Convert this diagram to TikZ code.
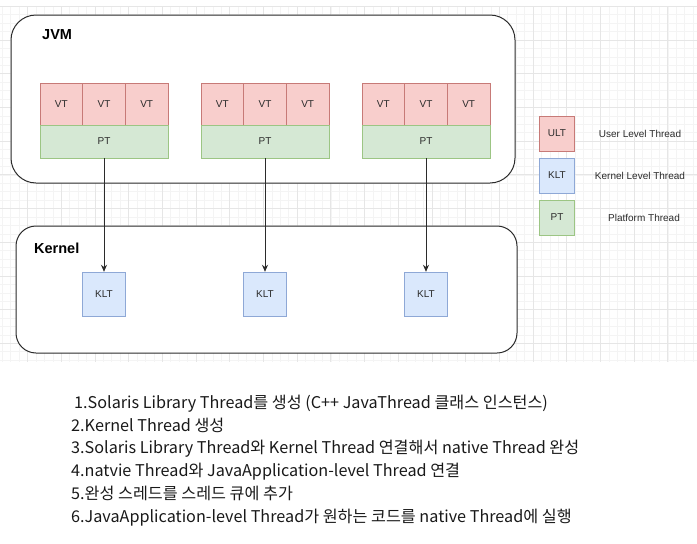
\documentclass[tikz,border=0pt]{standalone}
\usepackage{fontspec}
\setmainfont{Liberation Sans}
\newfontfamily\krfont{Noto Sans CJK KR}
\usetikzlibrary{arrows.meta}

\definecolor{vtfill}{HTML}{F8CECC}
\definecolor{vtline}{HTML}{C77A77}
\definecolor{ptfill}{HTML}{D5E8D4}
\definecolor{ptline}{HTML}{9CC584}
\definecolor{kltfill}{HTML}{DAE8FC}
\definecolor{kltline}{HTML}{8EA8D6}
\definecolor{gridmajor}{HTML}{E6E6E6}
\definecolor{gridminor}{HTML}{F4F4F4}
\definecolor{ink}{HTML}{2B2B2B}

\begin{document}
\begin{tikzpicture}[x=1pt, y=-1pt,
  cell/.style={inner sep=0pt, text=ink, font=\fontsize{10}{12}\selectfont},
  vt/.style={cell, draw=vtline, fill=vtfill, minimum width=42.67pt, minimum height=42pt},
  pt/.style={cell, draw=ptline, fill=ptfill, minimum width=128pt, minimum height=33pt},
  klt/.style={cell, draw=kltline, fill=kltfill, minimum width=43pt, minimum height=44pt},
  legendbox/.style={minimum width=35pt, minimum height=35pt},
  legendtext/.style={text=ink, font=\fontsize{10}{12}\selectfont},
  region/.style={draw=ink, line width=1pt, fill=white},
  regionlabel/.style={anchor=west, inner sep=0pt, font=\bfseries\fontsize{14.5}{17}\selectfont},
  link/.style={draw=ink, line width=0.9pt, -{Stealth[length=7pt, width=6pt]}},
]
  \useasboundingbox (0,0) rectangle (697,544);

  % background grid
  \foreach \k in {0,...,82}
    \draw[gridminor, line width=0.5pt] ({2.2+8.425*\k},6.3) -- ({2.2+8.425*\k},362);
  \foreach \k in {0,...,42}
    \draw[gridminor, line width=0.5pt] (0,{6.3+8.425*\k}) -- (697,{6.3+8.425*\k});
  \foreach \k in {0,...,19}
    \draw[gridmajor, line width=0.7pt] ({27.5+33.7*\k},6.3) -- ({27.5+33.7*\k},362);
  \foreach \k in {0,...,10}
    \draw[gridmajor, line width=0.7pt] (0,{6.3+33.7*\k}) -- (697,{6.3+33.7*\k});

  % JVM and Kernel
  \node[region, rounded corners=25pt, minimum width=504pt, minimum height=168pt] (jvm) at (263,99) {};
  \node[regionlabel] (jvmlabel) at (42,35) {JVM};
  \node[region, rounded corners=20pt, minimum width=501pt, minimum height=127pt] (kernel) at (266.5,289.5) {};
  \node[regionlabel] (kernellabel) at (34,248) {Kernel};

  % threads
  \foreach \g/\cx in {1/104, 2/265, 3/426} {
    \foreach \c in {1,2,3}
      \node[vt] (vt\g\c) at ({\cx+(\c-2)*42.67},104) {VT};
    \node[pt] (pt\g) at (\cx,141.5) {PT};
    \node[klt] (klt\g) at (\cx,294) {KLT};
    \draw[link] (pt\g) -- (klt\g);
  }

  % legend
  \node[vt, legendbox] (ultkey) at (557,133.5) {ULT};
  \node[klt, legendbox] (kltkey) at (557,175.5) {KLT};
  \node[pt, legendbox] (ptkey) at (557,217.5) {PT};
  \node[legendtext] (ulttext) at (640,133.5) {User Level Thread};
  \node[legendtext] (klttext) at (640,175.5) {Kernel Level Thread};
  \node[legendtext] (pttext) at (644,217.5) {Platform Thread};

  % steps
  \node[anchor=west, align=left, inner sep=0pt, text=black!90,
        font=\krfont\fontsize{16.2}{22.8}\selectfont] (steps) at (71,460.5) {%
    \hspace{3pt}1.Solaris Library Thread를 생성 (C++ JavaThread 클래스 인스턴스)\\
    2.Kernel Thread 생성\\
    3.Solaris Library Thread와 Kernel Thread 연결해서 native Thread 완성\\
    4.natvie Thread와 JavaApplication-level Thread 연결\\
    5.완성 스레드를 스레드 큐에 추가\\
    6.JavaApplication-level Thread가 원하는 코드를 native Thread에 실행};
\end{tikzpicture}
\end{document}
